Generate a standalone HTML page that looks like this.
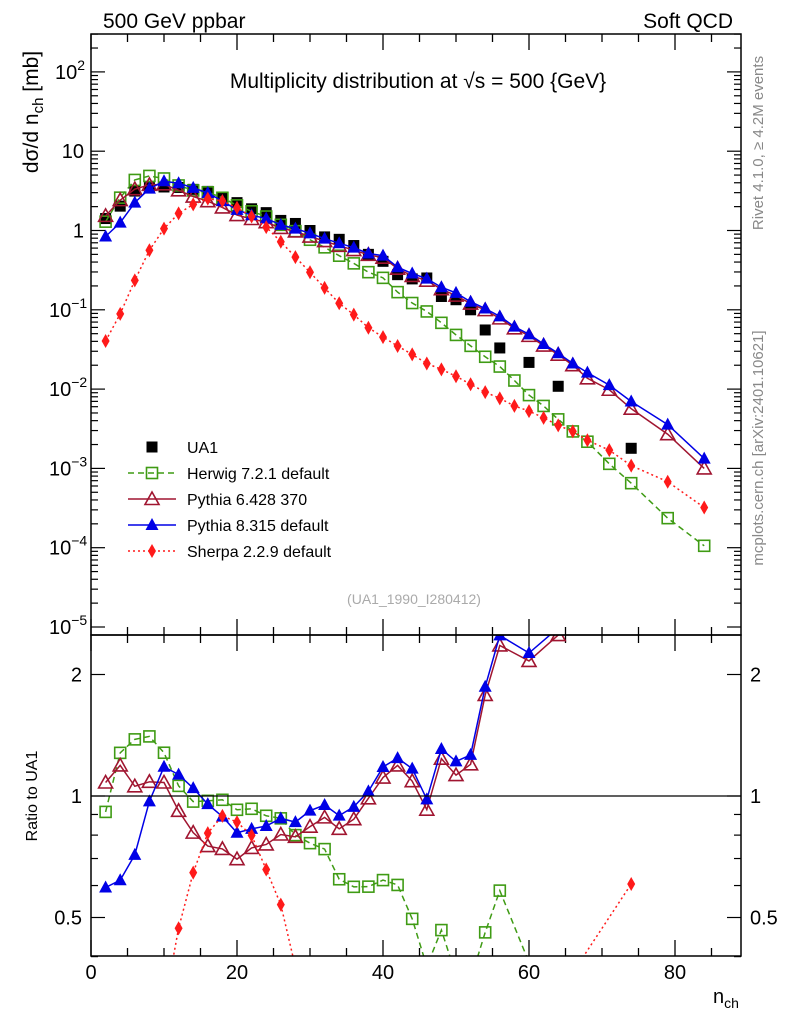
<!DOCTYPE html>
<html><head><meta charset="utf-8"><style>
html,body{margin:0;padding:0;background:#fff;overflow:hidden;width:786px;height:1024px;}
svg{display:block;font-family:"Liberation Sans",sans-serif;}
</style></head><body>
<svg id="c" width="786" height="1024" xmlns="http://www.w3.org/2000/svg">
<defs>
<clipPath id="cm"><rect x="91" y="34" width="650" height="601"/></clipPath>
<clipPath id="cr"><rect x="91" y="635" width="650" height="321"/></clipPath>
</defs>
<g id="ax"></g>
<g id="mainMarks" clip-path="url(#cm)"></g>
<g id="ratioMarks" clip-path="url(#cr)"></g>
<rect x="91" y="34" width="650" height="601" fill="none" stroke="#000" stroke-width="1.5"/>
<rect x="91" y="635" width="650" height="321" fill="none" stroke="#000" stroke-width="1.5"/>
<line x1="91" y1="796" x2="741" y2="796" stroke="#000" stroke-width="1.3"/>
<text x="103" y="28" font-size="21">500 GeV ppbar</text>
<text x="733" y="28" font-size="21" text-anchor="end">Soft QCD</text>
<text x="418" y="88" font-size="21" text-anchor="middle">Multiplicity distribution at √s = 500 {GeV}</text>
<text transform="translate(38,112) rotate(-90)" font-size="21" text-anchor="middle">dσ/d n<tspan font-size="15" dy="5">ch</tspan><tspan dy="-5"> [mb]</tspan></text>
<text transform="translate(37,796) rotate(-90)" font-size="16" text-anchor="middle">Ratio to UA1</text>
<text x="713" y="1003" font-size="20">n<tspan font-size="14" dy="5">ch</tspan></text>
<text transform="translate(763,143) rotate(-90)" font-size="15" fill="#888" text-anchor="middle">Rivet 4.1.0, ≥ 4.2M events</text>
<text transform="translate(763,448) rotate(-90)" font-size="15" fill="#888" text-anchor="middle">mcplots.cern.ch [arXiv:2401.10621]</text>
<text x="414" y="604" font-size="14" fill="#aaa" text-anchor="middle">(UA1_1990_I280412)</text>
<g id="legend"></g>
</svg>
<script>
const NS="http://www.w3.org/2000/svg";
// ---- data ----
const ua1X=[2,4,6,8,10,12,14,16,18,20,22,24,26,28,30,32,34,36,38,40,42,44,46,48,50,52,54,56,60,64,74];
const ua1Y=[1.5,2.15,3.33,3.68,3.75,3.7,3.5,3.3,2.8,2.38,1.99,1.78,1.42,1.30,1.06,0.88,0.82,0.685,0.53,0.433,0.294,0.26,0.267,0.156,0.142,0.106,0.059,0.035,0.023,0.0115,0.0019];
const mcX=[2,4,6,8,10,12,14,16,18,20,22,24,26,28,30,32,34,36,38,40,42,44,46,48,50,52,54,56,58,60,62,64,66,68,71,74,79,84];
const herwigY=[1.37,2.75,4.6,5.17,4.8,3.92,3.39,3.21,2.74,2.2,1.85,1.59,1.25,1.04,0.81,0.65,0.51,0.408,0.316,0.268,0.177,0.129,0.101,0.0726,0.0511,0.0372,0.0271,0.0204,0.0136,0.0089,0.0065,0.0044,0.0031,0.0023,0.00121,0.00069,0.00025,0.000112];
const pythia6Y=[1.62,2.56,3.52,3.99,4.05,3.40,2.84,2.48,2.07,1.66,1.48,1.35,1.14,1.03,0.89,0.779,0.68,0.60,0.523,0.481,0.35,0.283,0.247,0.193,0.160,0.127,0.105,0.0826,0.062,0.0497,0.0375,0.0288,0.0212,0.0145,0.0104,0.006,0.00286,0.00106];
const pythia8Y=[0.89,1.33,2.38,3.57,4.43,4.18,3.66,3.15,2.49,1.93,1.65,1.50,1.25,1.12,0.975,0.836,0.733,0.644,0.544,0.511,0.365,0.304,0.262,0.204,0.173,0.134,0.110,0.0875,0.065,0.052,0.0393,0.030,0.0223,0.0171,0.0119,0.0074,0.00378,0.00141];
const sherpaY=[0.0428,0.094,0.249,0.597,1.12,1.74,2.26,2.67,2.5,2.05,1.59,1.17,0.764,0.49,0.315,0.2,0.128,0.092,0.063,0.048,0.037,0.029,0.0223,0.0188,0.0154,0.0122,0.0097,0.0081,0.0065,0.0056,0.0046,0.0037,0.0031,0.0024,0.0018,0.00115,0.00072,0.00034];
const mainTickLabels=["10⁻⁵","10⁻⁴","10⁻³","10⁻²","10⁻¹","1","10","10²"];
const ratioTickLabels=["0.5","1","2"];
const xTickLabels=["0","20","40","60","80"];

// ---- axes ----
const X=n=>91+n*7.3;
const Y=v=>232.5-Math.log10(v)*79.3;
const R=r=>796-Math.log2(r)*121.5;
const YT=v=>230.5-Math.log10(v)*79.3;

function el(tag,attrs,parent){const e=document.createElementNS(NS,tag);for(const k in attrs)e.setAttribute(k,attrs[k]);parent.appendChild(e);return e;}
const ax=document.getElementById('ax');
for(let n=0;n<=85;n+=5){
  const major=n%20===0;const L=major?16:8;
  for(const [y0,dir] of [[635,-1],[34,1],[956,-1],[635,1]]){
    const t=el('line',{x1:X(n),x2:X(n),y1:y0,y2:y0+dir*L,stroke:'#000','stroke-width':1.3},ax);
    
    
  }
}
xTickLabels.forEach((s,i)=>{const t=el('text',{x:X(i*20),y:979,'font-size':20,'text-anchor':'middle'},ax);t.textContent=s;
  
  });
for(let d=-5;d<=2;d++){
  for(let m=1;m<=9;m++){
    const v=m*Math.pow(10,d);const y=YT(v);if(y<34||y>635)continue;
    const L=m===1?14:7;
    for(const [x0,dir] of [[91,1],[741,-1]]){
      const t=el('line',{x1:x0,x2:x0+dir*L,y1:y,y2:y,stroke:'#000','stroke-width':1.2},ax);
      
      
    }
  }
}
mainTickLabels.forEach((s,i)=>{const d=i-5;const y=YT(Math.pow(10,d));
  const t=el('text',{x:84,y:y+7,'font-size':20,'text-anchor':'end'},ax);
  if(d===0||d===1){t.textContent=s;}else{
    t.textContent='10';const sp=el('tspan',{dy:-9,'font-size':14},t);sp.textContent=d<0?('−'+(-d)):String(d);
    t.removeAttribute('text-anchor');t.setAttribute('x',d<0?49:55);
  }
  
  });
for(const r of [0.4,0.5,0.6,0.7,0.8,0.9,1,2]){
  const y=R(r);const L=(r===0.5||r===1||r===2)?14:7;
  for(const [x0,dir] of [[91,1],[741,-1]]){
    const t=el('line',{x1:x0,x2:x0+dir*L,y1:y,y2:y,stroke:'#000','stroke-width':1.2},ax);
    
    
  }
}
ratioTickLabels.forEach(s=>{const y=R(parseFloat(s));
  for(const [x,anc] of [[82,'end'],[750,'start']]){
    const t=el('text',{x:x,y:y+7,'font-size':20,'text-anchor':anc},ax);t.textContent=s;
    
    
  }});

function marker(kind,x,y,color,g){
  let m;
  if(kind==='sqfill') m=el('rect',{x:x-5.5,y:y-5.5,width:11,height:11,fill:'#000'},g);
  else if(kind==='sqopen') m=el('rect',{x:x-5.5,y:y-5.5,width:11,height:11,fill:'none',stroke:color,'stroke-width':1.6},g);
  else if(kind==='triopen') m=el('path',{d:`M${x},${y-7}L${x+7},${y+5.5}L${x-7},${y+5.5}Z`,fill:'none',stroke:color,'stroke-width':1.6},g);
  else if(kind==='trifill') m=el('path',{d:`M${x},${y-7}L${x+6.5},${y+5}L${x-6.5},${y+5}Z`,fill:color},g);
  else m=el('path',{d:`M${x},${y-7}L${x+4},${y}L${x},${y+7}L${x-4},${y}Z`,fill:color},g);
  return m;
}
const series=[
 {name:'herwig',y:herwigY,color:'#3f9b14',dash:'6,4',mk:'sqopen'},
 {name:'pythia6',y:pythia6Y,color:'#a01530',dash:'',mk:'triopen'},
 {name:'pythia8',y:pythia8Y,color:'#0000e6',dash:'',mk:'trifill'},
 {name:'sherpa',y:sherpaY,color:'#ff1a1a',dash:'2,3',mk:'diam'}
];
const gm=document.getElementById('mainMarks'),gr=document.getElementById('ratioMarks');
ua1X.forEach((n,i)=>{const m=marker('sqfill',X(n),Y(ua1Y[i]),'#000',gm);
  
  });
series.forEach(s=>{
  const pts=mcX.map((n,i)=>[X(n),Y(s.y[i])]);
  const p=el('polyline',{points:pts.map(q=>q.join(',')).join(' '),fill:'none',stroke:s.color,'stroke-width':1.5,'stroke-dasharray':s.dash},gm);
  
  
  pts.forEach(q=>{const m=marker(s.mk,q[0],q[1],s.color,gm);
    
    });
  const rp=[];
  ua1X.forEach((n,j)=>{const i=mcX.indexOf(n);if(i<0)return;rp.push([X(n),R(s.y[i]/ua1Y[j])]);});
  const pr=el('polyline',{points:rp.map(q=>q.join(',')).join(' '),fill:'none',stroke:s.color,'stroke-width':1.5,'stroke-dasharray':s.dash},gr);
  
  
  rp.forEach(q=>{const m=marker(s.mk,q[0],q[1],s.color,gr);
    
    });
});
const lg=document.getElementById('legend');
const entries=[['UA1','#000','','sqfill',false],['Herwig 7.2.1 default','#3f9b14','6,4','sqopen',true],['Pythia 6.428 370','#a01530','','triopen',true],['Pythia 8.315 default','#0000e6','','trifill',true],['Sherpa 2.2.9 default','#ff1a1a','2,3','diam',true]];
entries.forEach((e,k)=>{
  const y=447+k*26;
  const g=el('g',{},lg);
  
  
  if(e[4]) el('line',{x1:128,x2:176,y1:y,y2:y,stroke:e[1],'stroke-width':1.5,'stroke-dasharray':e[2]},g);
  marker(e[3],152,y,e[1],g);
  const t=el('text',{x:187,y:y+6,'font-size':16},g);t.textContent=e[0];
});
</script>
</body></html>
